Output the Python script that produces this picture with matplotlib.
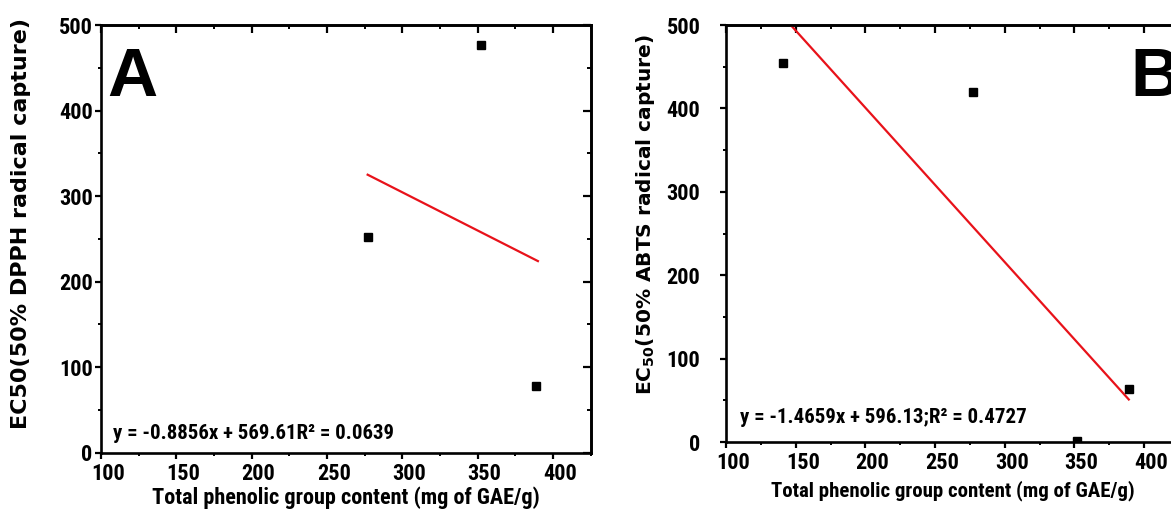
import matplotlib
matplotlib.use("Agg")
import matplotlib.pyplot as plt
from matplotlib import font_manager
from matplotlib.textpath import TextToPath
from matplotlib.ticker import MultipleLocator
from matplotlib.transforms import ScaledTranslation

# data
x_a = [277, 352, 389]
ec50_dpph = [252, 477, 78]
fit_a_x = [277, 390]
fit_a_y = [325, 224]
eq_a = "y = -0.8856x + 569.61R\u00b2 = 0.0639"

x_b = [141, 277, 352, 389]
ec50_abts = [455, 420, 1, 63]
fit_b_x = [141, 389]
fit_b_y = [510, 51]
eq_b = "y = -1.4659x + 596.13;R\u00b2 = 0.4727"

xlabel = "Total phenolic group content (mg of GAE/g)"
ylabel_a = "EC50(50% DPPH radical capture)"
ylabel_b = r"EC$_{\mathbf{50}}$(50% ABTS radical capture)"

# the reference uses Arial Narrow Bold; take the narrowest bold face available
prefs = ["liberationsansnarrow-bold", "robotocondensed-bold", "notosans-condensedbold",
         "opensans-condensedbold", "opensans_condensed-bold", "liberationsans-bold"]
files = {f.fname.split("/")[-1].lower().rsplit(".", 1)[0]: f.fname
         for f in font_manager.fontManager.ttflist}
narrow_file = None
for p in prefs:
    if p in files:
        narrow_file = files[p]
        break

plt.rcParams["font.family"] = ["Liberation Sans", "DejaVu Sans"]
plt.rcParams["font.weight"] = "bold"
t2p = TextToPath()


def fit_fp(text, width_px, max_size):
    # font size that gives the text the width it has in the reference
    if narrow_file:
        prop = font_manager.FontProperties(fname=narrow_file, size=10)
    else:
        prop = font_manager.FontProperties(family="Liberation Sans", weight="bold", size=10)
    w, h, d = t2p.get_text_width_height_descent(text, prop, ismath=False)
    size = min(max_size, 10 * width_px / (w * 100 / 72))
    prop.set_size(size)
    return prop


tick_fp = fit_fp("100", 34, 16)


def style_axes(fig, ax, ypad):
    ax.set_xlim(100, 425)
    ax.set_ylim(0, 500)
    ax.set_xticks([100, 150, 200, 250, 300, 350, 400])
    ax.set_yticks([0, 100, 200, 300, 400, 500])
    ax.xaxis.set_minor_locator(MultipleLocator(25))
    ax.yaxis.set_minor_locator(MultipleLocator(50))
    for s in ax.spines.values():
        s.set_linewidth(1.9)
    ax.tick_params(which="major", direction="out", length=4.5, width=1.6)
    ax.tick_params(axis="x", which="major", pad=3)
    ax.tick_params(axis="y", which="major", pad=ypad)
    ax.tick_params(which="minor", direction="out", length=2.2, width=1.4)
    # x tick labels sit a little right of their ticks in the reference
    shift = ScaledTranslation(7 / 100, 0, fig.dpi_scale_trans)
    for lab in ax.get_xticklabels():
        lab.set_fontproperties(tick_fp)
        lab.set_transform(lab.get_transform() + shift)
    for lab in ax.get_yticklabels():
        lab.set_fontproperties(tick_fp)
    top = ax.secondary_xaxis("top")
    top.set_xticks([100, 150, 200, 250, 300, 350, 400])
    top.xaxis.set_minor_locator(MultipleLocator(25))
    top.tick_params(which="major", direction="in", length=6, width=1.6, labeltop=False)
    top.tick_params(which="minor", direction="in", length=3, width=1.4)
    right = ax.secondary_yaxis("right")
    right.set_yticks([0, 100, 200, 300, 400, 500])
    right.yaxis.set_minor_locator(MultipleLocator(50))
    right.tick_params(which="major", direction="in", length=6, width=1.6, labelright=False)
    right.tick_params(which="minor", direction="in", length=3, width=1.4)
    for sec in (top, right):
        for s in sec.spines.values():
            s.set_linewidth(1.9)


fig = plt.figure(figsize=(11.71, 5.21), dpi=100)

# ---- Panel A: DPPH ----
ax_a = fig.add_axes([0.0862, 0.1311, 0.4182, 0.8209])
ax_a.plot(x_a, ec50_dpph, "ks", markersize=6, linestyle="none", zorder=3)
ax_a.plot(fit_a_x, fit_a_y, color="#e8121a", linewidth=1.6)
style_axes(fig, ax_a, ypad=1.5)
ax_a.set_xlabel(xlabel, fontproperties=fit_fp(xlabel, 435, 16), labelpad=1)
ax_a.text(0.013, 0.95, "A", transform=ax_a.transAxes, fontsize=50,
          family="Liberation Sans", fontweight="bold", va="top", ha="left")
ax_a.text(0.024, 0.032, eq_a, transform=ax_a.transAxes, fontproperties=fit_fp(eq_a, 312, 15),
          va="baseline", ha="left")
fig.text(21 / 1171, 1 - 224 / 521, ylabel_a, rotation=90, ha="center", va="center",
         family="DejaVu Sans", fontweight="bold", fontsize=16)

# ---- Panel B: ABTS ----
ax_b = fig.add_axes([0.62, 0.1516, 0.3868, 0.8004])
ax_b.plot(x_b, ec50_abts, "ks", markersize=6, linestyle="none", zorder=3)
ax_b.plot(fit_b_x, fit_b_y, color="#e8121a", linewidth=1.6)
style_axes(fig, ax_b, ypad=14)
ax_b.set_xlabel(xlabel, fontproperties=fit_fp(xlabel, 396, 15), labelpad=4)
ax_b.text(0.892, 0.95, "B", transform=ax_b.transAxes, fontsize=50,
          family="Liberation Sans", fontweight="bold", va="top", ha="left")
ax_b.text(0.031, 0.046, eq_b, transform=ax_b.transAxes, fontproperties=fit_fp(eq_b, 297, 15),
          va="baseline", ha="left")
fig.text(645 / 1171, 1 - 215 / 521, ylabel_b, rotation=90, ha="center", va="center",
         family="DejaVu Sans", fontweight="bold", fontsize=14.5)

fig.savefig("out.png", dpi=100)
